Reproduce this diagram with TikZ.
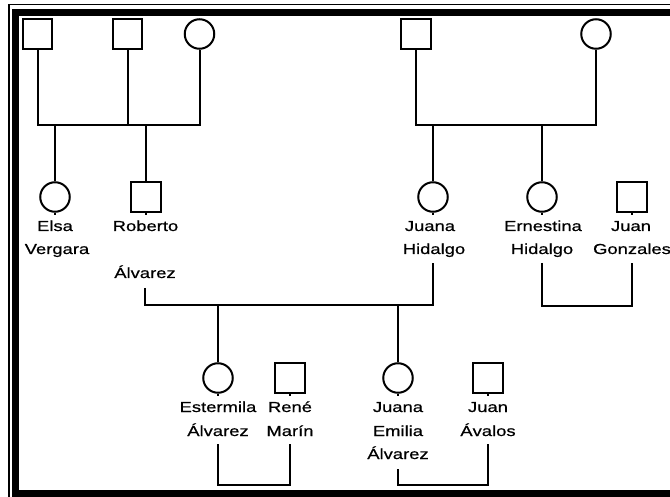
\documentclass[tikz,border=0pt]{standalone}
\usepackage{fontspec}
\setmainfont{Liberation Sans}[FakeStretch=1.27,FakeBold=0.6]
\begin{document}
\begin{tikzpicture}[x=1pt,y=-1pt,
  line width=2pt,
  male/.style={draw,rectangle,minimum size=29.5pt,inner sep=0pt},
  female/.style={draw,circle,minimum size=29.5pt,inner sep=0pt},
  lbl/.style={anchor=base,inner sep=0pt,font=\fontsize{14.5}{23}\selectfont},
  ln/.style={line width=2pt,line cap=butt}]
\useasboundingbox (0,0) rectangle (670,497);
\begin{scope}
\clip (0,0) rectangle (670,497);
% frame
\fill (12,9) rectangle (672,16);
\fill (12,9) rectangle (19,499);
\fill (12,490) rectangle (672,499);
\draw[line width=1.8pt] (9,499) -- (9,4.5) -- (672,4.5);

% generation 1
\node[male] (a1) at (37.5,34) {};
\node[male] (a2) at (127.5,34) {};
\node[female] (a3) at (199.5,34) {};
\node[male] (b1) at (416,34) {};
\node[female] (b2) at (596,34) {};

% generation 2
\node[female] (elsa) at (55,197) {};
\node[male] (rob) at (146,197) {};
\node[female] (juanah) at (433,197) {};
\node[female] (erne) at (542,197) {};
\node[male] (juang) at (632,197) {};

% generation 3
\node[female] (este) at (218,378) {};
\node[male] (rene) at (290,378) {};
\node[female] (juanae) at (398,378) {};
\node[male] (juana) at (488,378) {};

% labels
\node[lbl] (lelsa1) at (55,231) {Elsa};
\node[lbl] (lelsa2) at (57,254) {Vergara};
\node[lbl] (lrob1) at (145.5,231) {Roberto};
\node[lbl] (lrob2) at (145,278) {Álvarez};
\node[lbl] (ljh1) at (430,231) {Juana};
\node[lbl] (ljh2) at (434,254) {Hidalgo};
\node[lbl] (ler1) at (543,231) {Ernestina};
\node[lbl] (ler2) at (542,254) {Hidalgo};
\node[lbl] (ljg1) at (631,231) {Juan};
\node[lbl] (ljg2) at (632,254) {Gonzales};
\node[lbl] (les1) at (218,412) {Estermila};
\node[lbl] (les2) at (218,436) {Álvarez};
\node[lbl] (lre1) at (290,412) {René};
\node[lbl] (lre2) at (290,436) {Marín};
\node[lbl] (lje1) at (398,412) {Juana};
\node[lbl] (lje2) at (398,436) {Emilia};
\node[lbl] (lje3) at (398,459) {Álvarez};
\node[lbl] (lja1) at (488,412) {Juan};
\node[lbl] (lja2) at (488,436) {Ávalos};

% sibship bars
\coordinate (s1) at (0,125);
\draw[ln] (a1.south) -- (a1.south |- s1) -| (a3.south);
\draw[ln] (a2.south) -- (a2.south |- s1);
\draw[ln] (elsa.north) -- (elsa.north |- s1);
\draw[ln] (rob.north) -- (rob.north |- s1);
\draw[ln] (b1.south) -- (b1.south |- s1) -| (b2.south);
\draw[ln] (juanah.north) -- (juanah.north |- s1);
\draw[ln] (erne.north) -- (erne.north |- s1);

% small stubs below symbols
\foreach \n in {elsa,rob,juanah,erne,juang,este,rene,juanae,juana}
  \draw[line width=1.5pt] (\n.south) -- ++(0,2.5);

% marriage Roberto - Juana Hidalgo
\coordinate (m1a) at (145,288);
\coordinate (m1b) at (433,263);
\coordinate (m1y) at (0,305);
\draw[ln] (m1a) -- (m1a |- m1y) -| (m1b);
\draw[ln] (este.north) -- (este.north |- m1y);
\draw[ln] (juanae.north) -- (juanae.north |- m1y);

% marriage Ernestina - Juan Gonzales
\coordinate (m2a) at (542,263);
\coordinate (m2b) at (632,263);
\draw[ln] (m2a) -- (542,306) -| (m2b);

% marriage Estermila - René
\coordinate (m3a) at (218,444);
\coordinate (m3b) at (290,444);
\draw[ln] (m3a) -- (218,485) -| (m3b);

% marriage Juana Emilia - Juan Ávalos
\coordinate (m4a) at (398,469);
\coordinate (m4b) at (488,444);
\draw[ln] (m4a) -- (398,485) -| (m4b);
\end{scope}
\end{tikzpicture}
\end{document}
